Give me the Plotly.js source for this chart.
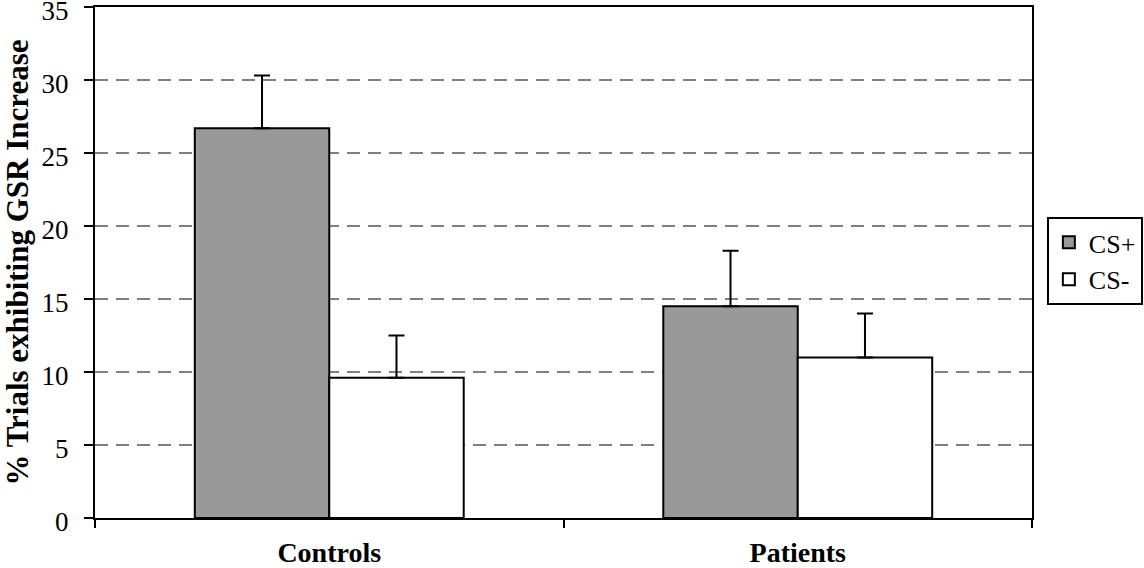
<!DOCTYPE html>
<html>
<head>
<meta charset="utf-8">
<script src="https://cdn.plot.ly/plotly-3.0.1.min.js"></script>
<style>
  html, body { margin: 0; padding: 0; background: #fff; }
  #chart { width: 1144px; height: 568px; }
</style>
</head>
<body>
<div id="chart"></div>
<script>
  var groups = ['Controls', 'Patients'];
  var csPlus = [26.7, 14.5];
  var csPlusErr = [3.6, 3.8];
  var csMinus = [9.6, 11.0];
  var csMinusErr = [2.9, 3.0];

  var serif = '"Liberation Serif", "Times New Roman", serif';

  function errBar(vals) {
    return {
      type: 'data',
      symmetric: false,
      array: vals,
      arrayminus: vals.map(function () { return 0; }),
      color: '#000',
      thickness: 2,
      width: 8
    };
  }

  var plusTrace = {
    x: groups,
    y: csPlus,
    name: 'CS+',
    type: 'bar',
    marker: { color: '#999999', line: { color: '#000', width: 2 } },
    error_y: errBar(csPlusErr)
  };
  var minusTrace = {
    x: groups,
    y: csMinus,
    name: 'CS-',
    type: 'bar',
    marker: { color: '#ffffff', line: { color: '#000', width: 2 } },
    error_y: errBar(csMinusErr)
  };

  var layout = {
    width: 1144,
    height: 568,
    margin: { l: 95, r: 112, t: 7, b: 50 },
    paper_bgcolor: '#fff',
    plot_bgcolor: '#fff',
    barmode: 'group',
    bargap: 0.426,
    bargroupgap: 0,
    font: { family: serif, size: 26, color: '#000' },
    showlegend: true,
    legend: {
      xref: 'container',
      x: 0.999,
      xanchor: 'right',
      y: 0.503,
      yanchor: 'middle',
      bordercolor: '#000',
      borderwidth: 2,
      font: { family: serif, size: 26, color: '#000' }
    },
    xaxis: {
      type: 'category',
      automargin: false,
      showline: true,
      linecolor: '#000',
      linewidth: 2,
      mirror: true,
      ticks: 'outside',
      tickson: 'boundaries',
      ticklen: 8,
      tickwidth: 2,
      tickcolor: '#000',
      showgrid: false,
      ticklabelstandoff: 8,
      tickfont: { family: serif, size: 28, weight: 'bold', color: '#000' }
    },
    yaxis: {
      automargin: false,
      range: [0, 35],
      tickmode: 'linear',
      tick0: 0,
      dtick: 5,
      showline: true,
      linecolor: '#000',
      linewidth: 2,
      mirror: true,
      ticks: 'outside',
      ticklen: 9,
      tickwidth: 2,
      tickcolor: '#000',
      showgrid: true,
      gridcolor: '#808080',
      gridwidth: 2,
      griddash: '13px,8px',
      zeroline: false,
      ticklabelstandoff: 10,
      ticklabelshift: 4,
      ticklabeloverflow: 'allow',
      tickfont: { family: serif, size: 27, color: '#000' },
      title: {
        text: '% Trials exhibiting GSR Increase',
        font: { family: serif, size: 31, weight: 'bold', color: '#000' },
        standoff: 6
      }
    }
  };

  Plotly.newPlot('chart', [plusTrace, minusTrace], layout, { displayModeBar: false, staticPlot: true });
</script>
</body>
</html>
